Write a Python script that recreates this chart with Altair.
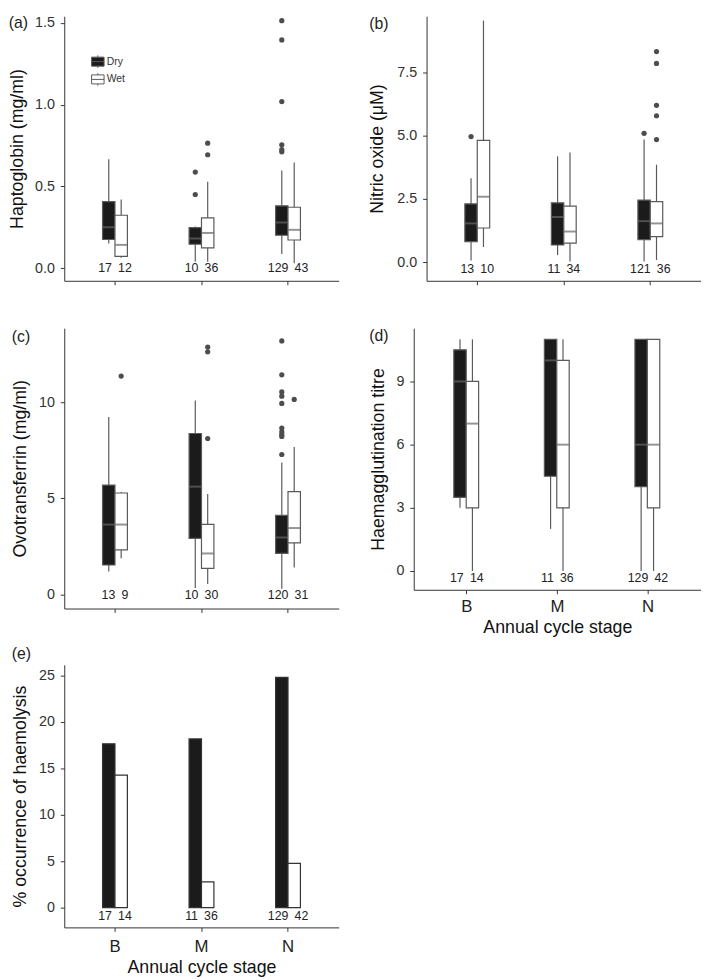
import altair as alt
import pandas as pd

STAGES = ["B", "M", "N"]
SEASONS = ["Dry", "Wet"]
GROUP_STAGE = ["B", "B", "M", "M", "N", "N"]
GROUP_SEASON = ["Dry", "Wet", "Dry", "Wet", "Dry", "Wet"]

# (a) Haptoglobin
hp_lower = [0.151, 0.065, 0.04, 0.04, 0.088, 0.03]
hp_q1 = [0.176, 0.073, 0.147, 0.125, 0.202, 0.173]
hp_med = [0.251, 0.143, 0.182, 0.216, 0.280, 0.235]
hp_q3 = [0.408, 0.324, 0.249, 0.308, 0.382, 0.373]
hp_upper = [0.667, 0.42, 0.255, 0.529, 0.598, 0.647]
hp_n = [17, 12, 10, 36, 129, 43]
hp_out_stage = ["M", "M", "M", "M", "N", "N", "N", "N", "N", "N"]
hp_out_season = ["Dry", "Dry", "Wet", "Wet", "Dry", "Dry", "Dry", "Dry", "Dry", "Dry"]
hp_out_value = [0.588, 0.451, 0.765, 0.694, 1.514, 1.396, 1.019, 0.755, 0.725, 0.712]

# (b) Nitric oxide
no_lower = [0.08, 0.61, 0.29, 0.04, 0.04, 0.1]
no_q1 = [0.82, 1.36, 0.69, 0.76, 0.90, 1.02]
no_med = [1.54, 2.59, 1.79, 1.22, 1.63, 1.54]
no_q3 = [2.31, 4.81, 2.35, 2.22, 2.46, 2.40]
no_upper = [3.32, 9.53, 4.18, 4.33, 4.84, 3.85]
no_n = [13, 10, 11, 34, 121, 36]
no_out_stage = ["B", "N", "N", "N", "N", "N", "N"]
no_out_season = ["Dry", "Dry", "Wet", "Wet", "Wet", "Wet", "Wet"]
no_out_value = [4.96, 5.09, 8.31, 7.84, 6.19, 5.78, 4.84]

# (c) Ovotransferrin
ov_lower = [1.2, 1.89, 0.34, 0.55, 0.31, 1.41]
ov_q1 = [1.54, 2.33, 2.92, 1.37, 2.14, 2.69]
ov_med = [3.64, 3.64, 5.61, 2.14, 2.97, 3.46]
ov_q3 = [5.69, 5.28, 8.37, 3.65, 4.12, 5.35]
ov_upper = [9.23, 5.33, 10.09, 5.23, 6.86, 7.67]
ov_n = [13, 9, 10, 30, 120, 31]
ov_out_stage = ["B", "M", "M", "M", "N", "N", "N", "N", "N", "N", "N", "N", "N", "N", "N"]
ov_out_season = ["Wet", "Wet", "Wet", "Wet", "Dry", "Dry", "Dry", "Dry", "Dry", "Dry",
                 "Dry", "Dry", "Dry", "Dry", "Wet"]
ov_out_value = [11.35, 12.86, 12.61, 8.11, 13.18, 11.42, 10.53, 10.31, 9.93, 8.65,
                8.45, 8.3, 8.22, 7.28, 10.14]

# (d) Haemagglutination titre
ha_lower = [3, 0, 2, 0, 0, 0]
ha_q1 = [3.5, 3, 4.5, 3, 4, 3]
ha_med = [9, 7, 10, 6, 6, 6]
ha_q3 = [10.5, 9, 11, 10, 11, 11]
ha_upper = [11, 11, 11, 11, 11, 11]
ha_n = [17, 14, 11, 36, 129, 42]

# (e) % occurrence of haemolysis
hl_pct = [17.65, 14.29, 18.18, 2.78, 24.81, 4.76]
hl_n = [17, 14, 11, 36, 129, 42]

FONT = "Liberation Sans"
DRY_FILL = "#1b1b1b"
STROKE = "#5a5a5a"
fill_scale = alt.Scale(domain=SEASONS, range=[DRY_FILL, "#ffffff"])
LEGEND_SYMBOL = "M-1,-0.72H1V0.72H-1Z M-1,0H1 M0,-0.72V-1 M0,0.72V1"


def x_enc(show_labels, lpad=5, tpad=4):
    axis = alt.Axis(
        labels=show_labels, title="Annual cycle stage" if show_labels else None,
        domainColor="#333333", tickColor="#333333", tickSize=4, labelAngle=0,
        labelFontSize=17, labelColor="#222222", labelPadding=lpad,
        titleFontSize=18, titleFontWeight="normal", titleColor="#111111", titlePadding=tpad,
    )
    return alt.X("stage:N", sort=STAGES,
                 scale=alt.Scale(domain=STAGES, paddingInner=0.713, paddingOuter=0.4425),
                 axis=axis)


XOFF = alt.XOffset("season:N", scale=alt.Scale(domain=SEASONS, paddingInner=0, paddingOuter=0))


def y_axis(title, ticks, fmt, tpad):
    return alt.Axis(
        values=ticks, format=fmt, title=title, grid=False,
        domainColor="#333333", tickColor="#333333", tickSize=4,
        labelFontSize=14.5, labelColor="#333333", labelPadding=6,
        titleFontSize=18, titleFontWeight="normal", titleColor="#111111", titlePadding=tpad,
    )


def tag_title(tag, offset):
    return alt.TitleParams(text=tag, anchor="start", frame="bounds", fontSize=16,
                           fontWeight="normal", color="#222222", offset=offset, font=FONT)


def count_labels(n):
    # one label per stage: "dry  wet", centred on the stage tick
    return pd.DataFrame({"stage": STAGES,
                         "label": [f"{n[2 * i]}\u2002{n[2 * i + 1]}" for i in range(3)]})


def box_panel(tag, ytitle, lower, q1, med, q3, upper, n, out_stage, out_season, out_val,
              domain, ticks, fmt, label_y, width, height, show_x, tag_offset, tpad,
              legend=None):
    df = pd.DataFrame({"stage": GROUP_STAGE, "season": GROUP_SEASON, "lower": lower,
                       "q1": q1, "median": med, "q3": q3, "upper": upper, "n": n})
    yscale = alt.Scale(domain=domain, nice=False, zero=False)
    yax = y_axis(ytitle, ticks, fmt, tpad)
    xe = x_enc(show_x)
    base = alt.Chart(df)
    whisk = base.mark_rule(color=STROKE, strokeWidth=1.2).encode(
        x=xe, xOffset=XOFF, y=alt.Y("lower:Q", scale=yscale, axis=yax), y2="upper:Q")
    box = base.mark_bar(stroke=STROKE, strokeWidth=1.2).encode(
        x=xe, xOffset=XOFF, y=alt.Y("q1:Q", scale=yscale, axis=yax), y2="q3:Q",
        fill=alt.Fill("season:N", scale=fill_scale, legend=legend))
    medl = base.mark_tick(color="#666666", thickness=2, size=12).encode(
        x=xe, xOffset=XOFF, y=alt.Y("median:Q", scale=yscale, axis=yax))
    lab = alt.Chart(count_labels(n)).mark_text(fontSize=12.5, color="#222222", font=FONT).encode(
        x=xe, y=alt.Y("ly:Q", scale=yscale, axis=yax), text="label:N"
    ).transform_calculate(ly=str(label_y))
    layers = [whisk, box, medl]
    if out_stage:
        odf = pd.DataFrame({"stage": out_stage, "season": out_season, "value": out_val})
        outl = alt.Chart(odf).mark_circle(size=28, color="#4d4d4d", opacity=1).encode(
            x=xe, xOffset=XOFF, y=alt.Y("value:Q", scale=yscale, axis=yax))
        layers.append(outl)
    layers.append(lab)
    return alt.layer(*layers).properties(width=width, height=height,
                                         title=tag_title(tag, tag_offset))


legend_a = alt.Legend(title=None, orient="none", legendX=27, legendY=39,
                      symbolType=LEGEND_SYMBOL, symbolSize=160, symbolStrokeColor=STROKE,
                      symbolStrokeWidth=1, labelFontSize=10.5, labelColor="#333333",
                      labelFont=FONT, rowPadding=0, labelOffset=2, padding=0)

pa = box_panel("(a)", "Haptoglobin (mg/ml)", hp_lower, hp_q1, hp_med, hp_q3, hp_upper, hp_n,
               hp_out_stage, hp_out_season, hp_out_value, [-0.0765, 1.541],
               [0, 0.5, 1.0, 1.5], ".1f", 0, 278, 268, False, -16, 8, legend=legend_a)
pb = box_panel("(b)", "Nitric oxide (μM)", no_lower, no_q1, no_med, no_q3, no_upper, no_n,
               no_out_stage, no_out_season, no_out_value, [-0.72, 9.70],
               [0, 2.5, 5.0, 7.5], ".1f", -0.27, 278, 268, False, -16, 10)
pc = box_panel("(c)", "Ovotransferrin (mg/ml)", ov_lower, ov_q1, ov_med, ov_q3, ov_upper, ov_n,
               ov_out_stage, ov_out_season, ov_out_value, [-0.72, 13.84],
               [0, 5, 10], "d", 0, 278, 284, False, -17, 9)
pd_ = box_panel("(d)", "Haemagglutination titre", ha_lower, ha_q1, ha_med, ha_q3, ha_upper, ha_n,
                [], [], [], [-0.89, 11.53], [0, 3, 6, 9], "d", -0.33, 291, 265, True, -16, 9)

# (e) bars
edf = pd.DataFrame({"stage": GROUP_STAGE, "season": GROUP_SEASON, "pct": hl_pct, "n": hl_n})
escale = alt.Scale(domain=[-2.13, 26.17], nice=False, zero=False)
eax = y_axis("% occurrence of haemolysis", [0, 5, 10, 15, 20, 25], "d", 9)
exe = x_enc(True, lpad=7, tpad=5)
ebars = alt.Chart(edf).mark_bar(stroke="#333333", strokeWidth=1.2).encode(
    x=exe, xOffset=XOFF, y=alt.Y("pct:Q", scale=escale, axis=eax), y2=alt.Y2(datum=0),
    fill=alt.Fill("season:N", scale=fill_scale, legend=None))
elab = alt.Chart(count_labels(hl_n)).mark_text(fontSize=12.5, color="#222222", font=FONT).encode(
    x=exe, y=alt.Y("ly:Q", scale=escale, axis=eax), text="label:N"
).transform_calculate(ly="-0.96")
pe = alt.layer(ebars, elab).properties(width=278, height=266, title=tag_title("(e)", 3))

row1 = alt.hconcat(pa, pb, spacing=30)
row2 = alt.hconcat(pc, pd_, spacing=30)
top = alt.vconcat(row1, row2, spacing=43)
chart = alt.vconcat(top, pe, spacing=10).properties(padding=0).configure(
    font=FONT
).configure_view(stroke=None)

chart.save("out.html", embed_options={"renderer": "svg", "actions": False})
